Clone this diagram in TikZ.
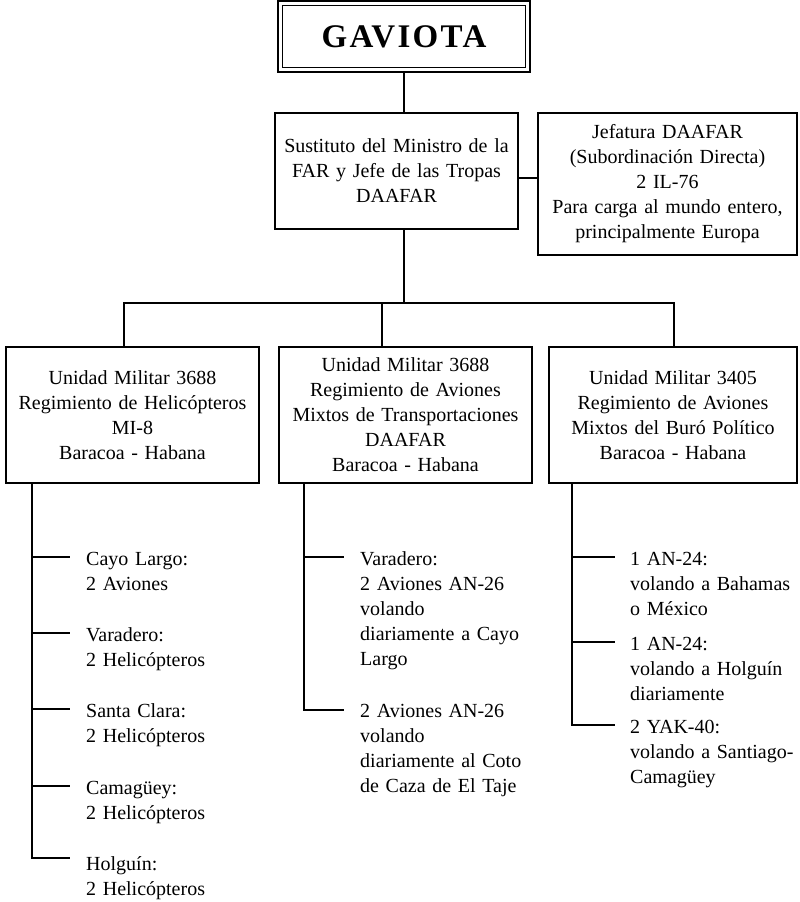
\documentclass[tikz,border=0pt]{standalone}
\usepackage{fontspec}
\setmainfont{Liberation Serif}
\newfontfamily\gavfont[LetterSpace=7]{Liberation Serif}
\begin{document}
\begin{tikzpicture}[x=1pt,y=-1pt,
  every node/.style={font=\fontsize{20}{25}\selectfont, inner sep=0pt},
  orgbox/.style={draw, line width=2pt, align=center, text width=#1},
  conn/.style={line width=2pt},
  item/.style={anchor=base west, align=left, text width=200pt}
]
\useasboundingbox (0,0) rectangle (800,902);

% top box
\node[draw, line width=2.6pt, minimum width=252pt, minimum height=71pt,
      font=\fontsize{33}{33}\selectfont\gavfont\bfseries] (gav) at (404,36.5) {GAVIOTA};
\draw[line width=1.2pt] ([shift={(5.5,5.5)}]gav.north west) rectangle ([shift={(-5.5,-5.5)}]gav.south east);

% second level
\node[orgbox=233pt, minimum width=243pt, minimum height=116pt] (sust) at (396.5,171)
  {Sustituto del Ministro de la\\FAR y Jefe de las Tropas\\DAAFAR};
\node[orgbox=249pt, minimum width=259pt, minimum height=142pt] (jef) at (667.5,184)
  {Jefatura DAAFAR\\(Subordinación Directa)\\2 IL-76\\Para carga al mundo entero,\\principalmente Europa};

% third level
\node[orgbox=243pt, minimum width=253pt, minimum height=136pt] (u1) at (132.5,415)
  {Unidad Militar 3688\\Regimiento de Helicópteros\\MI-8\\Baracoa - Habana};
\node[orgbox=243pt, minimum width=253pt, minimum height=136pt] (u2) at (405.5,415)
  {Unidad Militar 3688\\Regimiento de Aviones\\Mixtos de Transportaciones\\DAAFAR\\Baracoa - Habana};
\node[orgbox=238pt, minimum width=248pt, minimum height=136pt] (u3) at (673,415)
  {Unidad Militar 3405\\Regimiento de Aviones\\Mixtos del Buró Político\\Baracoa - Habana};

% connectors top
\draw[conn] (gav.south) -- (gav.south |- sust.north);
\draw[conn] (sust.east |- 0,178) -- (jef.west |- 0,178);
\coordinate (busL) at (124,303);
\coordinate (busM) at (382,303);
\coordinate (busR) at (674,303);
\draw[conn] (sust.south -| gav.south) -- (gav.south |- busL);
\draw[conn] (busL |- u1.north) -- (busL) -- (busR) -- (busR |- u3.north);
\draw[conn] (busM) -- (busM |- u2.north);

% left branches
\coordinate (lx) at (32,0);
\foreach \y/\n in {557/a,633/b,709/c,786/d,858/e}{
  \coordinate (le\n) at (70,\y);
}
\draw[conn] (u1.south -| lx) -- (lx |- lee) -- (lee);
\foreach \n in {a,b,c,d}{ \draw[conn] (lx |- le\n) -- (le\n); }
\node[item] (l1) at (86,565) {Cayo Largo:\\2 Aviones};
\node[item] (l2) at (86,641) {Varadero:\\2 Helicópteros};
\node[item] (l3) at (86,717) {Santa Clara:\\2 Helicópteros};
\node[item] (l4) at (86,794) {Camagüey:\\2 Helicópteros};
\node[item] (l5) at (86,870) {Holguín:\\2 Helicópteros};

% middle branches
\coordinate (mx) at (304,0);
\coordinate (mea) at (344,557);
\coordinate (meb) at (344,710);
\draw[conn] (u2.south -| mx) -- (mx |- meb) -- (meb);
\draw[conn] (mx |- mea) -- (mea);
\node[item] (m1) at (360,565) {Varadero:\\2 Aviones AN-26\\volando\\diariamente a Cayo\\Largo};
\node[item] (m2) at (360,717) {2 Aviones AN-26\\volando\\diariamente al Coto\\de Caza de El Taje};

% right branches
\coordinate (rx) at (572,0);
\coordinate (rea) at (615,557);
\coordinate (reb) at (615,642);
\coordinate (rec) at (615,725);
\draw[conn] (u3.south -| rx) -- (rx |- rec) -- (rec);
\draw[conn] (rx |- rea) -- (rea);
\draw[conn] (rx |- reb) -- (reb);
\node[item] (r1) at (630,565) {1 AN-24:\\volando a Bahamas\\o México};
\node[item] (r2) at (630,650) {1 AN-24:\\volando a Holguín\\diariamente};
\node[item] (r3) at (630,733) {2 YAK-40:\\volando a Santiago-\\Camagüey};
\end{tikzpicture}
\end{document}
